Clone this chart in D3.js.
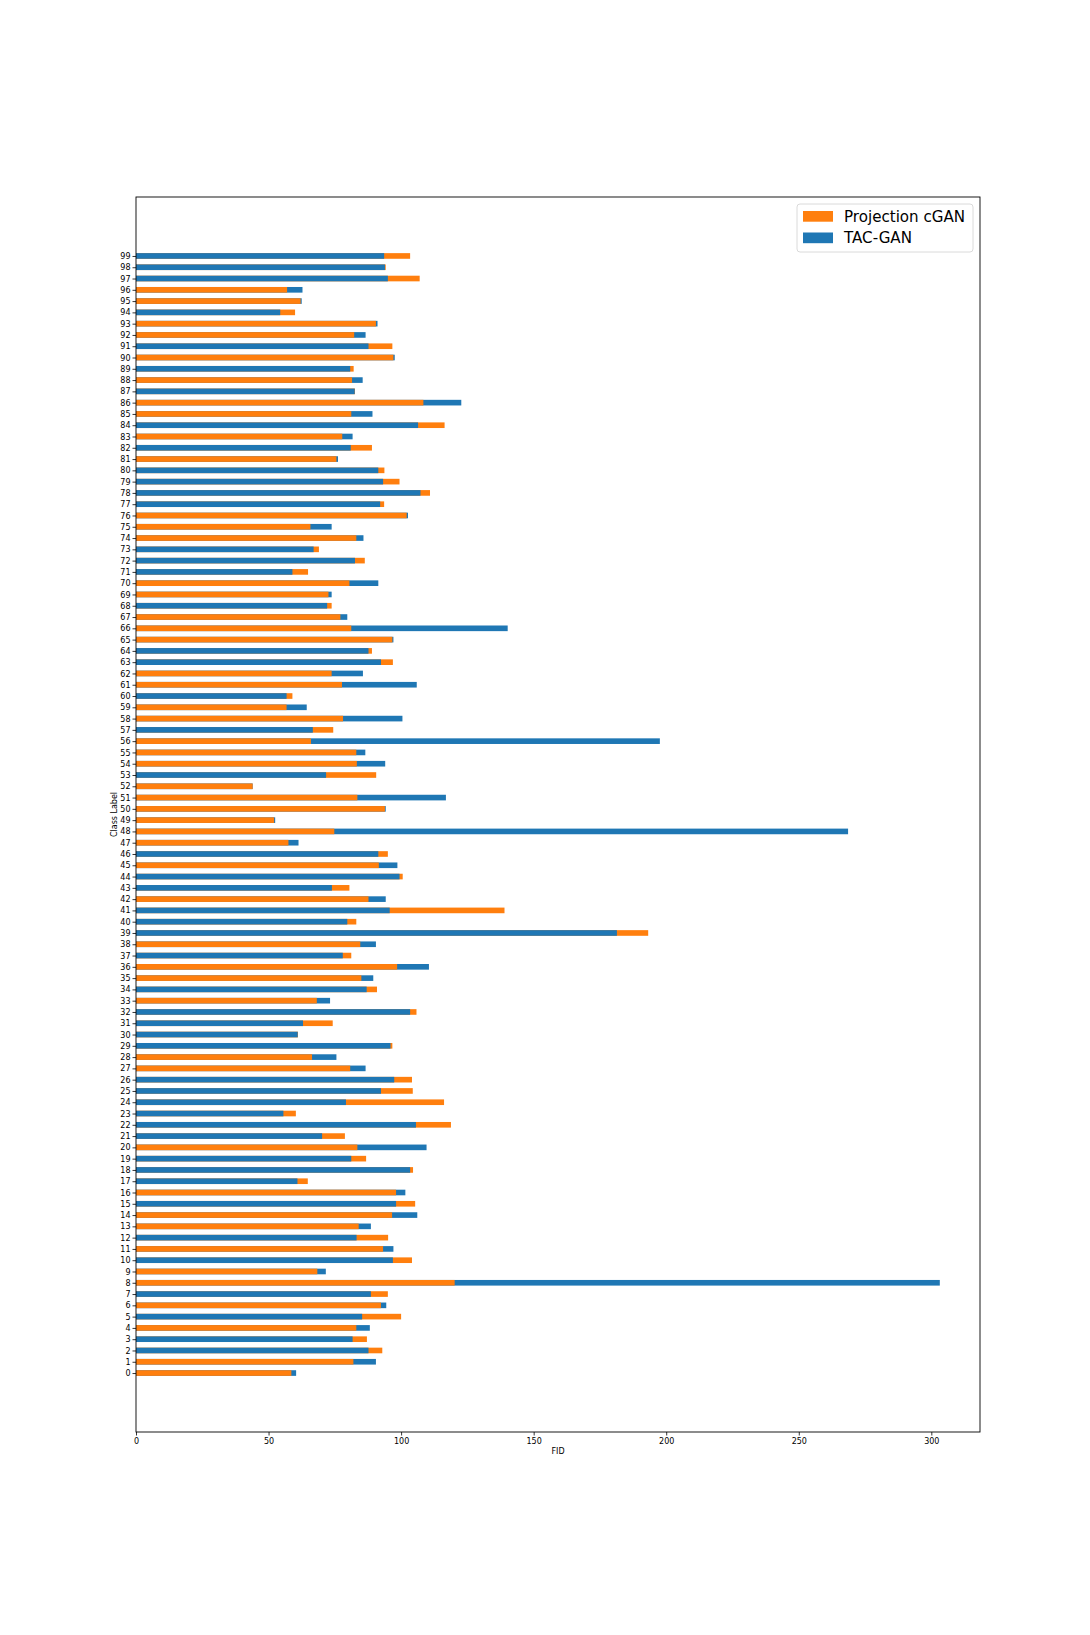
<!DOCTYPE html>
<html>
<head>
<meta charset="utf-8">
<script src="https://cdn.jsdelivr.net/npm/d3@7"></script>
<style>
body { margin: 0; background: #fff; }
text { font-family: "DejaVu Sans", sans-serif; }
</style>
</head>
<body>
<div id="chart"></div>
<script>
// FID per class (index = class label)
var projection = [
	58.6, 82.0, 92.9, 87.1, 83.1, 100.0, 92.4, 95.0, 120.2, 68.4,
	104.1, 93.2, 95.1, 84.0, 96.6, 105.3, 98.1, 64.8, 104.5, 86.8,
	83.5, 78.8, 118.8, 60.3, 116.2, 104.4, 104.1, 80.8, 66.4, 96.7,
	61.1, 74.2, 105.8, 68.2, 90.9, 85.0, 98.5, 81.2, 84.6, 193.2,
	83.1, 139.0, 87.7, 80.5, 100.6, 91.6, 95.0, 57.5, 74.8, 52.1,
	93.9, 83.5, 44.0, 90.6, 83.3, 83.1, 66.0, 74.4, 78.1, 56.8,
	59.0, 77.7, 73.8, 96.9, 89.0, 96.7, 81.2, 77.1, 73.8, 72.6,
	80.5, 64.9, 86.3, 69.0, 83.1, 65.8, 102.1, 93.6, 110.9, 99.4,
	93.7, 75.6, 89.0, 77.8, 116.4, 81.2, 108.4, 82.6, 81.5, 82.1,
	97.1, 96.7, 82.3, 90.5, 60.0, 62.1, 57.0, 107.0, 94.2, 103.4
];
var tacgan = [
	60.4, 90.5, 87.7, 81.7, 88.2, 85.3, 94.4, 88.6, 303.2, 71.6,
	96.9, 97.1, 83.2, 88.6, 106.1, 98.1, 101.6, 60.9, 103.4, 81.2,
	109.6, 70.2, 105.6, 55.6, 79.2, 92.4, 97.4, 86.6, 75.6, 96.0,
	61.0, 63.0, 103.4, 73.2, 87.0, 89.5, 110.5, 78.0, 90.5, 181.4,
	79.7, 95.7, 94.2, 73.9, 99.4, 98.6, 91.4, 61.3, 268.6, 52.5,
	94.2, 116.9, 44.0, 71.7, 94.0, 86.5, 197.6, 66.7, 100.5, 64.4,
	56.8, 105.9, 85.6, 92.4, 87.7, 97.1, 140.2, 79.7, 72.1, 73.8,
	91.4, 59.0, 82.6, 67.0, 85.8, 73.8, 102.6, 92.1, 107.3, 93.2,
	91.4, 76.2, 81.0, 81.7, 106.4, 89.2, 122.7, 82.5, 85.5, 80.8,
	97.6, 87.7, 86.6, 91.1, 54.4, 62.5, 62.8, 95.0, 93.9, 93.6
];
var seriesNames = ["Projection cGAN", "TAC-GAN"];
var color = ["#ff7f0e", "#1f77b4"];
var xTicks = [0, 50, 100, 150, 200, 250, 300];

var width = 1090;
var height = 1635;
var plotLeft = 136, plotRight = 980, plotTop = 197, plotBottom = 1432;
var barHeight = 0.5;
var tickFont = "8px";

var classes = d3.range(projection.length);

/* Scale */
var xMax = d3.max(projection.concat(tacgan)) * 1.05;
var xScale = d3.scaleLinear()
	.domain([0, xMax])
	.range([plotLeft, plotRight]);

var yPad = (classes.length - 1 + barHeight) * 0.05;
var yScale = d3.scaleLinear()
	.domain([-barHeight / 2 - yPad, classes.length - 1 + barHeight / 2 + yPad])
	.range([plotBottom, plotTop]);

var svg = d3.select("#chart").append("svg")
	.attr("width", width)
	.attr("height", height);

/* Bars: per class, the longer bar goes behind the shorter one */
var rows = classes.map(function(c) {
	var bars = [
		{cls: c, series: 1, value: tacgan[c]},
		{cls: c, series: 0, value: projection[c]}
	];
	bars.sort(function(a, b) { return b.value - a.value; });
	return bars;
});

var bh = yScale(0) - yScale(barHeight);

svg.append("g")
	.attr("class", "bars")
	.selectAll("g")
	.data(rows).enter()
	.append("g")
	.selectAll("rect")
	.data(d => d).enter()
	.append("rect")
	.attr("x", xScale(0))
	.attr("y", d => yScale(d.cls + barHeight / 2))
	.attr("width", d => xScale(d.value) - xScale(0))
	.attr("height", bh)
	.attr("fill", d => color[d.series]);

/* Axes */
var xAxis = d3.axisBottom(xScale)
	.tickValues(xTicks)
	.tickSize(3.5)
	.tickPadding(3);
var yAxis = d3.axisLeft(yScale)
	.tickValues(classes)
	.tickFormat(d3.format("d"))
	.tickSize(3.5)
	.tickPadding(2);

var gx = svg.append("g")
	.attr("transform", `translate(0, ${plotBottom})`)
	.call(xAxis);
var gy = svg.append("g")
	.attr("transform", `translate(${plotLeft}, 0)`)
	.call(yAxis);

[gx, gy].forEach(function(g) {
	g.select(".domain").remove();
	g.selectAll("line").attr("stroke", "#000").attr("stroke-width", 0.8);
	g.selectAll("text")
		.style("font-size", tickFont)
		.attr("fill", "#000");
});

/* Frame */
svg.append("rect")
	.attr("x", plotLeft)
	.attr("y", plotTop)
	.attr("width", plotRight - plotLeft)
	.attr("height", plotBottom - plotTop)
	.attr("fill", "none")
	.attr("stroke", "#000")
	.attr("stroke-width", 0.9);

/* Axis labels */
svg.append("text")
	.attr("x", (plotLeft + plotRight) / 2)
	.attr("y", plotBottom + 22)
	.attr("text-anchor", "middle")
	.style("font-size", tickFont)
	.text("FID");

svg.append("text")
	.attr("transform", `translate(${plotLeft - 19}, ${(plotTop + plotBottom) / 2}) rotate(-90)`)
	.attr("text-anchor", "middle")
	.style("font-size", tickFont)
	.text("Class Label");

/* Legend */
var legend = svg.append("g")
	.attr("transform", "translate(797, 204)");

legend.append("rect")
	.attr("width", 176)
	.attr("height", 48)
	.attr("rx", 3)
	.attr("fill", "#fff")
	.attr("fill-opacity", 0.8)
	.attr("stroke", "#d0d0d0")
	.attr("stroke-width", 0.8);

legend.selectAll("g.item")
	.data(seriesNames).enter()
	.append("g")
	.attr("class", "item")
	.attr("transform", (d, i) => `translate(6, ${7 + i * 21.5})`)
	.each(function(d, i) {
		var g = d3.select(this);
		g.append("rect")
			.attr("width", 30)
			.attr("height", 10.7)
			.attr("fill", color[i]);
		g.append("text")
			.attr("x", 41)
			.attr("y", 10.8)
			.style("font-size", "15.1px")
			.attr("fill", "#000")
			.text(d);
	});
</script>
</body>
</html>
